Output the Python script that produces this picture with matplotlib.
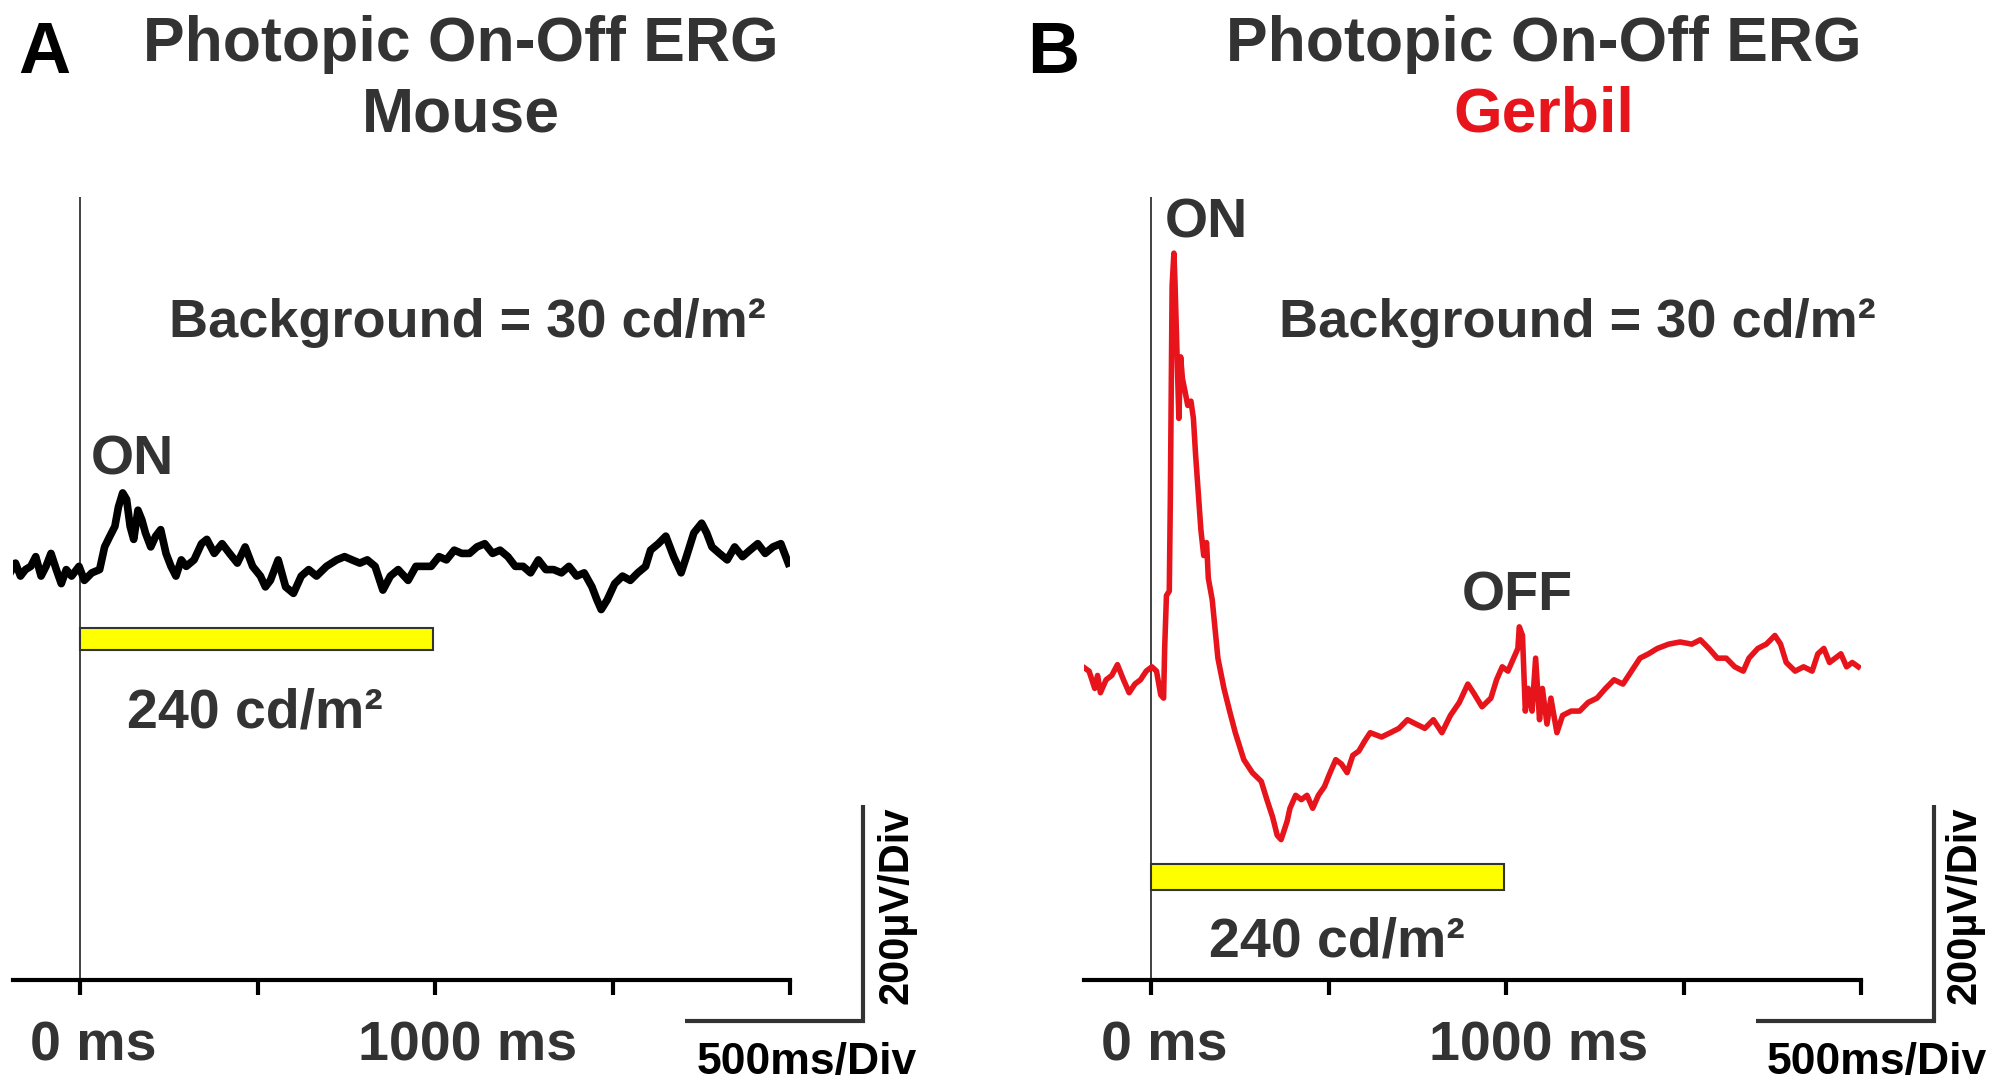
import numpy as np
import matplotlib
matplotlib.use("Agg")
import matplotlib.pyplot as plt
from matplotlib.transforms import ScaledTranslation

plt.rcParams['font.family'] = ['Liberation Sans', 'DejaVu Sans']
plt.rcParams['font.weight'] = 'bold'

# ---- data (time in ms, amplitude in uV re. baseline) ----
mouse_t = [-197, -182, -168, -154, -139, -125, -110, -96, -82, -67, -53, -39, -24, -3, 12, 33, 55,
           69, 84, 98, 108, 120, 131, 141, 151, 163, 174, 184, 199, 213, 227, 242, 256, 270, 285,
           299, 321, 342, 357, 378, 400, 421, 443, 465, 486, 508, 522, 536, 558, 579, 601, 623,
           644, 666, 694, 723, 745, 766, 788, 809, 831, 853, 874, 896, 924, 946, 968, 989, 1011,
           1032, 1054, 1075, 1097, 1118, 1140, 1162, 1183, 1205, 1226, 1248, 1269, 1291, 1312,
           1334, 1356, 1377, 1399, 1420, 1442, 1456, 1468, 1485, 1506, 1528, 1550, 1571, 1593,
           1607, 1629, 1650, 1672, 1693, 1708, 1729, 1751, 1765, 1780, 1801, 1823, 1844, 1866,
           1887, 1909, 1930, 1952, 1974, 1995]
mouse_v = [0, 9, -3, 3, 6, 15, -3, 6, 18, 3, -10, 3, -3, 6, -7, 0, 3,
           24, 34, 43, 61, 74, 68, 43, 31, 58, 49, 37, 24, 34, 40, 18, 6, -3, 12,
           6, 12, 27, 31, 18, 27, 18, 9, 24, 6, -3, -13, -7, 12, -13, -19, -3,
           3, -3, 6, 12, 15, 12, 9, 12, 6, -16, -3, 3, -7, 6, 6, 6, 15,
           12, 21, 18, 18, 24, 27, 18, 21, 15, 6, 6, 0, 12, 3,
           3, 0, 6, -3, 0, -13, -25, -34, -25, -10, -3, -7, 0, 6,
           21, 27, 34, 15, 0, 15, 37, 46, 37, 24, 18, 12, 24, 15,
           21, 27, 18, 24, 27, 9]

gerbil_t = [-192, -175, -159, -151, -143, -127, -111, -95, -78, -62, -46, -30, -14, 2, 15, 27, 35,
            38, 43, 51, 54, 59, 64, 67, 74, 78, 83, 88, 96, 103, 112, 119, 125, 132, 140, 148,
            156, 161, 172, 188, 205, 221, 237, 261, 285, 310, 326, 342, 355, 366, 383, 391, 407,
            423, 439, 455, 471, 488, 504, 520, 536, 552, 568, 585, 601, 617, 649, 674, 698, 722,
            746, 771, 795, 819, 843, 868, 892, 908, 932, 957, 973, 989, 1005, 1021, 1033, 1037,
            1046, 1054, 1062, 1073, 1083, 1094, 1102, 1115, 1126, 1143, 1159, 1183, 1207, 1231,
            1256, 1280, 1304, 1329, 1353, 1377, 1401, 1426, 1458, 1490, 1523, 1547, 1571, 1595,
            1620, 1644, 1668, 1684, 1709, 1733, 1757, 1773, 1789, 1814, 1838, 1862, 1878, 1895,
            1911, 1927, 1943, 1959, 1975, 1992]
gerbil_v = [12, 8, -8, 4, -12, 0, 4, 14, 0, -12, -4, 0, 8, 12, 8, -14, -17,
            29, 78, 82, 168, 365, 395, 369, 287, 242, 299, 279, 266, 254, 258, 242, 209, 176, 139, 115,
            127, 94, 74, 20, -8, -29, -49, -74, -86, -94, -111, -127, -144, -148, -131, -119, -107,
            -111, -107, -119, -107, -99, -86, -74, -78, -86, -70, -66, -57, -49, -53, -49, -45, -37,
            -41, -45, -37, -49, -33, -21, -4, -12, -25, -17, 0, 12, 8, 20, 29, 49,
            41, -29, -8, -29, 20, -37, -8, -41, -17, -49, -33, -29, -29, -21,
            -17, -8, 0, -4, 8, 20, 24, 29, 33, 35, 33, 37, 29, 20,
            20, 12, 8, 20, 29, 33, 41, 33, 16, 8, 12, 8, 24, 29,
            16, 20, 24, 12, 16, 12]

tick_ms = [0, 500, 1000, 1500, 2000]
tick_labels = ['0 ms', '', '1000 ms', '', '']
stim_on, stim_off = 0, 995
scale_ms, scale_uv = 500, 200

DARK = '#333333'
RED = '#e8141c'

fig = plt.figure(figsize=(19.95, 10.83), dpi=100)


def panel(rect, t, v, color, lw, ylim, bar_y, scale_x0):
    ax = fig.add_axes(rect)
    ax.set_xlim(-189, 2000)
    ax.set_ylim(*ylim)
    for s in ['top', 'right', 'left']:
        ax.spines[s].set_visible(False)
    ax.spines['bottom'].set_linewidth(3)
    ax.spines['bottom'].set_color('black')
    ax.set_yticks([])
    ax.set_xticks(tick_ms)
    ax.set_xticklabels(tick_labels, fontsize=40, color=DARK, fontweight='bold')
    ax.tick_params(axis='x', direction='out', length=11, width=3, pad=18, color='black')
    # labels sit a little right of their ticks in the original
    for lab, dx in zip(ax.get_xticklabels(), [0.13, 0, 0.32, 0, 0]):
        lab.set_transform(lab.get_transform() + ScaledTranslation(dx, 0, fig.dpi_scale_trans))
    ax.patch.set_alpha(0)

    # stimulus onset marker
    ax.axvline(0, color=DARK, lw=1.3, zorder=1)
    ax.plot(t, v, color=color, lw=lw, solid_joinstyle='round', zorder=3)

    # stimulus bar (yellow)
    ax.add_patch(plt.Rectangle((stim_on, bar_y[0]), stim_off - stim_on, bar_y[1] - bar_y[0],
                               facecolor='#ffff00', edgecolor=DARK, lw=1.5, zorder=2))

    # scale bars
    y0 = ylim[0] - 38
    ax.plot([scale_x0, scale_x0 + scale_ms, scale_x0 + scale_ms],
            [y0, y0, y0 + scale_uv], color=DARK, lw=3, clip_on=False,
            solid_joinstyle='miter', solid_capstyle='butt')
    return ax


axA = panel([0.00652, 0.0951, 0.3895, 0.723], mouse_t, mouse_v, 'black', 5.5,
            (-377, 348), (-71, -51), 1705)
axB = panel([0.5434, 0.0951, 0.3895, 0.723], gerbil_t, gerbil_v, RED, 4.0,
            (-278, 447), (-195, -171), 1705)

# panel letters and titles
fig.text(0.0223, 0.933, 'A', fontsize=52, color='black', ha='center', va='baseline')
fig.text(0.528, 0.933, 'B', fontsize=52, color='black', ha='center', va='baseline')
fig.text(0.2309, 0.9437, 'Photopic On-Off ERG', fontsize=45, color=DARK, ha='center', va='baseline')
fig.text(0.2309, 0.879, 'Mouse', fontsize=45, color=DARK, ha='center', va='baseline')
fig.text(0.7736, 0.9437, 'Photopic On-Off ERG', fontsize=45, color=DARK, ha='center', va='baseline')
fig.text(0.7736, 0.879, 'Gerbil', fontsize=45, color=RED, ha='center', va='baseline')

# annotations
for x in [0.0848, 0.641]:
    fig.text(x, 0.689, 'Background = 30 cd/m²', fontsize=39, color=DARK, ha='left', va='baseline')
fig.text(0.0663, 0.562, 'ON', fontsize=40, color=DARK, ha='center', va='baseline')
fig.text(0.6046, 0.781, 'ON', fontsize=40, color=DARK, ha='center', va='baseline')
fig.text(0.7608, 0.436, 'OFF', fontsize=40, color=DARK, ha='center', va='baseline')
fig.text(0.0638, 0.328, '240 cd/m²', fontsize=40, color=DARK, ha='left', va='baseline')
fig.text(0.606, 0.1165, '240 cd/m²', fontsize=40, color=DARK, ha='left', va='baseline')

# scale bar labels
for xv, xh in [(0.4496, 0.4043), (0.9845, 0.9407)]:
    fig.text(xv, 0.164, '200µV/Div', fontsize=30, color='black', rotation=90,
             ha='center', va='center')
    fig.text(xh, 0.008, '500ms/Div', fontsize=32, color='black', ha='center', va='baseline')

fig.savefig('out.png', dpi=100)
